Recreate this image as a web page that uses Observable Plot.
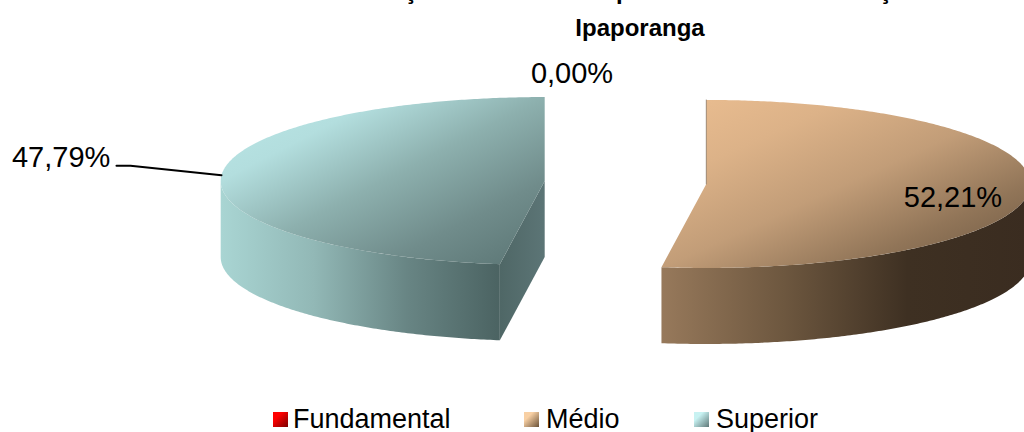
<!DOCTYPE html>
<html lang="pt">
<head>
<meta charset="utf-8">
<script src="https://cdn.jsdelivr.net/npm/d3@7"></script>
<script src="https://cdn.jsdelivr.net/npm/@observablehq/plot@0.6"></script>
<style>
html,body{margin:0;padding:0;background:#fff;overflow:hidden;width:1024px;height:432px}
body{font-family:"Liberation Sans",Arial,sans-serif;color:#000}
#title{height:44px;overflow:hidden;font-weight:bold;font-size:24px;line-height:31px;position:relative}
#title div{position:absolute;white-space:nowrap;left:0;width:1280px;text-align:center}
#chart svg{display:block}
#legend{height:32px;position:relative;overflow:hidden;font-size:27px;line-height:26px}
#legend span{position:absolute;top:6px}
#legend i{position:absolute;top:12px;width:15px;height:15px}
</style>
</head>
<body>
<div id="title"></div>
<div id="chart"></div>
<div id="legend"></div>
<script>
const categories = ["Fundamental", "Médio", "Superior"];
const shares = [0.00, 52.21, 47.79];
const titleLines = ["Função dos Docentes por Nível de Escolarização", "Ipaporanga"];
const labelRadius = [1.05, 0.76, 1.49];
const labelNudge = [[-0.165, 0], [0.003, 0.11], [-0.006, -0.17]];

const faces = {
  "Médio": {top: ["#ebbe91", "#dcb288", "#c29d78", "#917558", "#6a5540"], side: ["#97795b", "#6d573f", "#3e3022", "#3a2c20"]},
  "Superior": {top: ["#bbe8e8", "#b3dede", "#8db0ae", "#708c8b", "#5a7473"], side: ["#a9d5d3", "#92b8b6", "#688584", "#4b6362"], cut: ["#4f6766", "#5c7576"]},
  "Fundamental": {top: ["#ff0000", "#a00000", "#600000"], side: ["#c00000", "#900000", "#400000"]}
};
const edgeColor = "#7d6a55";
const swatches = {"Fundamental": ["#ff0000", "#7a0000"], "Médio": ["#f8d0a4", "#6a5238"], "Superior": ["#c8f2f2", "#5f7878"]};
const legendX = [273, 524, 694];
const legendGap = [20, 22, 22];

const W = 1024, H = 356, cx = 625, cy = 138, rx = 324, ry = 84;
const depth = 0.905, explode = 0.25;

const total = d3.sum(shares);
const polar = (a, r) => ({x: Math.sin(a) * r, y: -Math.cos(a) * r});
let acc = 0;
const slices = categories.map((name, i) => {
  const a0 = acc / total * 2 * Math.PI;
  acc += shares[i];
  const a1 = acc / total * 2 * Math.PI;
  const mid = (a0 + a1) / 2;
  const o = polar(mid, explode);
  return {name, i, a0, a1, mid, ox: o.x, oy: o.y, value: shares[i]};
});

const arcPts = (s, from, to, dy = 0) => {
  const n = Math.max(2, Math.ceil(Math.abs(to - from) / 0.01));
  return d3.range(n + 1).map(k => {
    const p = polar(from + (to - from) * k / n, 1);
    return {x: s.ox + p.x, y: s.oy + p.y + dy};
  });
};
const topFace = s => [{x: s.ox, y: s.oy}, ...arcPts(s, s.a0, s.a1)];
const sideFace = s => {
  const from = Math.max(s.a0, Math.PI / 2), to = Math.min(s.a1, 3 * Math.PI / 2);
  return to > from ? [...arcPts(s, from, to), ...arcPts(s, to, from, depth)] : [];
};
const cutFace = (s, a) => {
  const p = polar(a, 1);
  return [{x: s.ox, y: s.oy}, {x: s.ox + p.x, y: s.oy + p.y},
          {x: s.ox + p.x, y: s.oy + p.y + depth}, {x: s.ox, y: s.oy + depth}];
};

const defs = () => {
  const d = d3.create("svg:defs");
  const grad = (id, stops, x2, y2) => {
    const g = d.append("linearGradient").attr("id", id)
      .attr("x1", 0).attr("y1", 0).attr("x2", x2).attr("y2", y2);
    stops.forEach((c, i) => g.append("stop").attr("offset", i / (stops.length - 1)).attr("stop-color", c));
  };
  categories.forEach((name, i) => {
    grad(`top${i}`, faces[name].top, 1, 1);
    grad(`side${i}`, faces[name].side, 1, 0);
    if (faces[name].cut) grad(`cut${i}`, faces[name].cut, 1, 0);
  });
  return d.node();
};

const visible = slices.filter(s => s.value > 0);
const face = (pts, fill) => Plot.line(pts, {x: "x", y: "y", fill, stroke: "none", curve: "linear"});

const labels = slices.map((s, i) => {
  const p = polar(s.mid, labelRadius[i]);
  return {text: s.value.toFixed(2).replace(".", ",") + "%",
          x: s.ox + p.x + labelNudge[i][0], y: s.oy + p.y + labelNudge[i][1]};
});

const sup = slices[2];
const edge = polar(sup.mid, 1);
const leader = [
  {x: sup.ox + edge.x, y: sup.oy + edge.y},
  {x: sup.ox + edge.x - 91 / rx, y: sup.oy + edge.y - 9.5 / ry},
  {x: sup.ox + edge.x - 105 / rx, y: sup.oy + edge.y - 9.5 / ry}
];

const med = slices[1];
const medEdge = polar(med.a0, 1);

const plot = Plot.plot({
  width: W, height: H, margin: 0,
  x: {domain: [-cx / rx, (W - cx) / rx], range: [0, W], axis: null},
  y: {domain: [-cy / ry, (H - cy) / ry], range: [0, H], axis: null},
  style: {background: "#fff", overflow: "hidden"},
  marks: [
    defs,
    ...visible.flatMap(s => faces[s.name].cut ? [face(cutFace(s, s.a0), `url(#cut${s.i})`)] : []),
    ...visible.map(s => face(sideFace(s), `url(#side${s.i})`)),
    ...visible.map(s => face(topFace(s), `url(#top${s.i})`)),
    Plot.line([{x: med.ox, y: med.oy}, {x: med.ox + medEdge.x, y: med.oy + medEdge.y}],
      {x: "x", y: "y", stroke: edgeColor, strokeWidth: 1, strokeOpacity: 0.7}),
    Plot.line(leader, {x: "x", y: "y", stroke: "#000", strokeWidth: 2, curve: "linear"}),
    Plot.text(labels, {x: "x", y: "y", text: "text", fontSize: 29,
      fontFamily: "Liberation Sans", fill: "#000", stroke: "none"})
  ]
});
document.getElementById("chart").append(plot);

const title = d3.select("#title");
title.append("div").style("top", "-25px").text(titleLines[0]);
title.append("div").style("top", "12px").text(titleLines[1]);

const legend = d3.select("#legend");
categories.forEach((name, i) => {
  const [a, b] = swatches[name];
  legend.append("i").style("left", legendX[i] + "px")
    .style("background", `linear-gradient(135deg,${a} 0%,${a} 30%,${b} 100%)`);
  legend.append("span").style("left", (legendX[i] + legendGap[i]) + "px").text(name);
});
</script>
</body>
</html>
